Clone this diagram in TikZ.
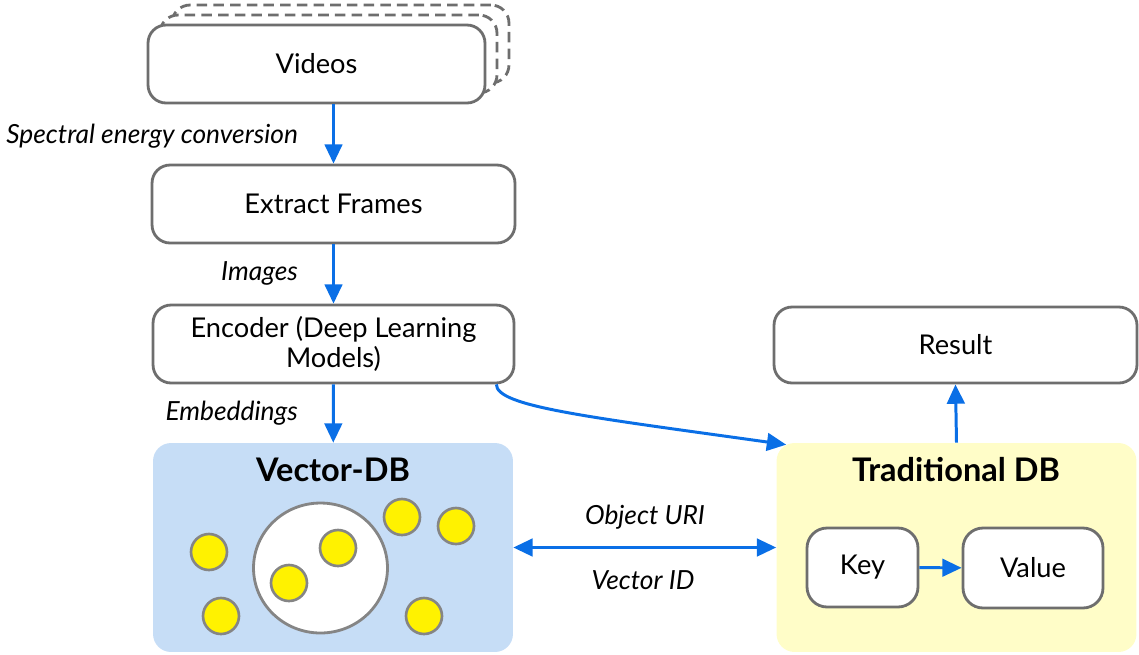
\documentclass[tikz,border=0pt]{standalone}
\usepackage{fontspec}
\setmainfont{Lato}
\usetikzlibrary{arrows.meta, shapes.geometric}

\definecolor{boxgray}{HTML}{6E6E6E}
\definecolor{flowblue}{HTML}{0A6FE6}
\definecolor{vdbfill}{HTML}{C6DDF6}
\definecolor{tdbfill}{HTML}{FFFDC8}
\definecolor{dotgray}{HTML}{858585}

\tikzset{
    stagebox/.style={draw=boxgray, line width=1.6pt, rounded corners=0.36cm, fill=white,
        align=center, font=\fontsize{15.5}{17.5}\selectfont, inner sep=0pt},
    dbbox/.style={rounded corners=0.36cm, minimum width=7.2cm, minimum height=4.18cm, inner sep=0pt},
    dbtitle/.style={font=\fontsize{18.5}{21}\selectfont\bfseries},
    flowlabel/.style={font=\fontsize{15}{18}\selectfont\itshape, inner sep=1pt},
    flow/.style={draw=flowblue, line width=1.7pt, -{Triangle[length=11pt,width=10pt]}},
    vecdot/.style={circle, draw=dotgray, line width=1.5pt, fill=yellow, minimum size=0.72cm, inner sep=0pt}
}

\begin{document}
\begin{tikzpicture}[x=0.02cm, y=-0.02cm]
    \useasboundingbox (0,0) rectangle (1139,654);

    % videos, with two dashed copies behind
    \node[stagebox, dash pattern=on 6pt off 3.5pt, minimum width=6.74cm, minimum height=1.56cm] (videosc) at (340.5,44) {};
    \node[stagebox, dash pattern=on 6pt off 3.5pt, minimum width=6.74cm, minimum height=1.56cm] (videosb) at (328.5,54) {};
    \node[stagebox, minimum width=6.74cm, minimum height=1.56cm] (videos) at (316.5,64) {\raisebox{-2pt}{Videos}};
    \node[stagebox, minimum width=7.26cm, minimum height=1.56cm] (frames) at (333.5,204) {Extract Frames};
    \node[stagebox, minimum width=7.22cm, minimum height=1.56cm] (encoder) at (333.5,344) {Encoder (Deep Learning\\Models)};
    \node[stagebox, minimum width=7.26cm, minimum height=1.52cm] (result) at (955.5,345) {Result};

    \node[flowlabel, anchor=east] (spectral) at (300,136) {Spectral energy conversion};
    \node[flowlabel, anchor=east] (images) at (300,273) {Images};
    \node[flowlabel, anchor=east] (embeds) at (300,413) {Embeddings};

    % vector database
    \node[dbbox, fill=vdbfill] (vdb) at (333,547.5) {};
    \node[dbtitle] (vdbtitle) at (333,470) {Vector-DB};
    \node[ellipse, draw=dotgray, line width=1.6pt, fill=white, minimum width=2.68cm, minimum height=2.6cm, inner sep=0pt] (cluster) at (320.5,568) {};
    \node[vecdot] (dota) at (209,552) {};
    \node[vecdot] (dotb) at (221,616) {};
    \node[vecdot] (dotc) at (289,583) {};
    \node[vecdot] (dotd) at (338,548) {};
    \node[vecdot] (dote) at (402,517) {};
    \node[vecdot] (dotf) at (456,526) {};
    \node[vecdot] (dotg) at (424,616) {};

    % traditional database
    \node[dbbox, fill=tdbfill] (tdb) at (956.5,547.5) {};
    \node[dbtitle] (tdbtitle) at (956,470) {Traditional DB};
    \node[stagebox, rounded corners=0.4cm, minimum width=2.22cm, minimum height=1.58cm] (key) at (862.5,567.5) {\raisebox{-2pt}{Key}};
    \node[stagebox, rounded corners=0.4cm, minimum width=2.8cm, minimum height=1.6cm] (value) at (1033,568) {\raisebox{-2pt}{Value}};

    \node[flowlabel] (objuri) at (645,517) {Object URI};
    \node[flowlabel] (vecid) at (643,580) {Vector ID};

    \draw[flow] (videos.south -| frames.north) -- (frames.north);
    \draw[flow] (frames) -- (encoder);
    \draw[flow] (encoder) -- (vdb);
    \draw[flow] ([xshift=-0.38cm]encoder.south east) .. controls +(0,22) and +(-200,-28) .. ([xshift=0.2cm,yshift=-0.04cm]tdb.north west);
    \draw[flow] (tdb.north) -- (result.south);
    \draw[flow, {Triangle[length=11pt,width=10pt]}-{Triangle[length=11pt,width=10pt]}] (vdb.east) -- (tdb.west);
    \draw[flow] (key) -- (value);
\end{tikzpicture}
\end{document}
